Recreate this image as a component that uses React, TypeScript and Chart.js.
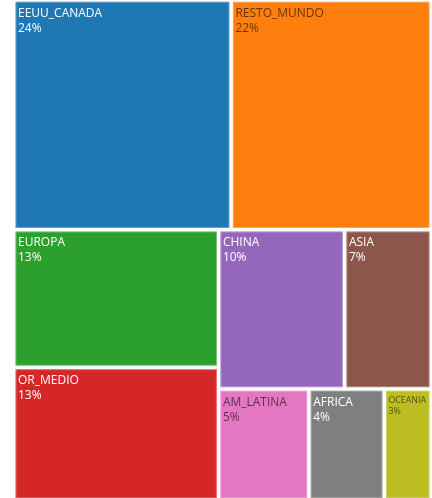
import React, { useEffect, useRef } from "react";
import { Chart, registerables } from "chart.js";

Chart.register(...registerables);

const regions = ["EEUU_CANADA", "RESTO_MUNDO", "EUROPA", "OR_MEDIO", "CHINA", "ASIA", "AM_LATINA", "AFRICA", "OCEANIA"];
const shares = [23.9, 22.0, 13.5, 13.0, 9.6, 6.6, 4.8, 4.0, 2.5];
const shareLabels = ["24%", "22%", "13%", "13%", "10%", "7%", "5%", "4%", "3%"];
const colors = ["#1f77b4", "#ff7f0e", "#2ca02c", "#d62728", "#9467bd", "#8c564b", "#e377c2", "#7f7f7f", "#bcbd22"];
const labelColors = ["#ffffff", "rgba(0,0,0,0.6)", "#ffffff", "#ffffff", "#ffffff", "#ffffff", "rgba(0,0,0,0.6)", "#ffffff", "rgba(0,0,0,0.6)"];

type R = { x: number; y: number; w: number; h: number };

function worst(row: number[], side: number) {
  const s = row.reduce((a, b) => a + b, 0);
  const mx = Math.max(...row);
  const mn = Math.min(...row);
  return Math.max((side * side * mx) / (s * s), (s * s) / (side * side * mn));
}

function squarify(values: number[], W: number, H: number): R[] {
  const total = values.reduce((a, b) => a + b, 0);
  const areas = values.map((v) => (v * W * H) / total);
  const out: R[] = [];
  let x = 0, y = 0, w = W, h = H;
  let i = 0;
  while (i < areas.length) {
    const side = Math.min(w, h);
    let row = [areas[i]];
    let best = worst(row, side);
    let j = i + 1;
    while (j < areas.length) {
      const cand = [...row, areas[j]];
      const wv = worst(cand, side);
      if (wv <= best) {
        row = cand;
        best = wv;
        j++;
      } else break;
    }
    const s = row.reduce((a, b) => a + b, 0);
    const thick = s / side;
    if (w <= h) {
      let cx = x;
      row.forEach((a) => {
        const cw = a / thick;
        out.push({ x: cx, y, w: cw, h: thick });
        cx += cw;
      });
      y += thick;
      h -= thick;
    } else {
      let cy = y;
      row.forEach((a) => {
        const ch = a / thick;
        out.push({ x, y: cy, w: thick, h: ch });
        cy += ch;
      });
      x += thick;
      w -= thick;
    }
    i = j;
  }
  return out;
}

const treemapPlugin = {
  id: "treemapCells",
  afterDatasetsDraw(chart: any) {
    const xs = chart.scales.x;
    const ys = chart.scales.y;
    const ctx = chart.ctx as CanvasRenderingContext2D;
    const ax = (xs.getPixelForValue(100) - xs.getPixelForValue(0)) / 100;
    const ay = (ys.getPixelForValue(100) - ys.getPixelForValue(0)) / 100;
    const phys = squarify(shares, 100 * ax, 100 * ay);
    const inset = 1.75;
    ctx.save();
    phys.forEach((p, i) => {
      const dx = p.x / ax, dy = p.y / ay, dw = p.w / ax, dh = p.h / ay;
      const l = xs.getPixelForValue(dx) + inset;
      const r = xs.getPixelForValue(dx + dw) - inset;
      const t = ys.getPixelForValue(dy) + inset;
      const b = ys.getPixelForValue(dy + dh) - inset;
      ctx.fillStyle = colors[i];
      ctx.fillRect(l, t, r - l, b - t);
      ctx.strokeStyle = "rgba(255,255,255,0.3)";
      ctx.lineWidth = 1;
      ctx.strokeRect(l + 0.5, t + 0.5, r - l - 1, b - t - 1);

      let fs = 12;
      ctx.font = `${fs}px "Open Sans"`;
      const tw = Math.max(ctx.measureText(regions[i]).width, ctx.measureText(shareLabels[i]).width);
      const avail = r - l - 6;
      if (tw > avail) fs = (fs * avail) / tw;
      ctx.font = `${fs}px "Open Sans"`;
      ctx.fillStyle = labelColors[i];
      ctx.textAlign = "left";
      ctx.textBaseline = "alphabetic";
      ctx.fillText(regions[i], l + 2.5, t + 3 + fs);
      ctx.fillText(shareLabels[i], l + 2.5, t + 3 + fs + fs * 1.25);
    });
    ctx.restore();
  },
};

export default function App() {
  const ref = useRef<HTMLCanvasElement>(null);
  useEffect(() => {
    if (!ref.current) return;
    const chart = new Chart(ref.current, {
      type: "scatter",
      data: {
        datasets: [
          {
            label: "Share",
            data: [],
            pointRadius: 0,
          },
        ],
      },
      options: {
        responsive: false,
        animation: false,
        layout: { padding: { left: 13.75, right: 0.75, top: 0, bottom: 0 } },
        scales: {
          x: { type: "linear", min: 0, max: 100, display: false },
          y: { type: "linear", min: 0, max: 100, reverse: true, display: false },
        },
        plugins: { legend: { display: false }, tooltip: { enabled: false } },
      },
      plugins: [treemapPlugin],
    });
    return () => chart.destroy();
  }, []);
  return (
    <div style={{ position: "fixed", left: 0, top: 0, width: 432, height: 500 }}>
      <canvas ref={ref} width={432} height={500} style={{ display: "block" }} />
    </div>
  );
}
